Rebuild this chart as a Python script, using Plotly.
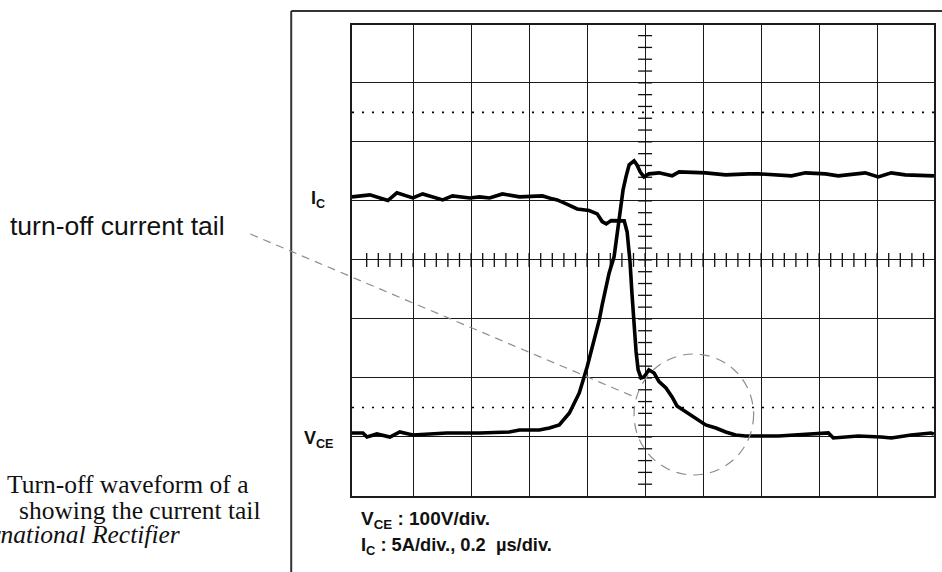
import numpy as np
import plotly.graph_objects as go

# ---------------- data ----------------
# scales: VCE 100 V/div, IC 5 A/div, time 0.2 us/div
T_PER_DIV = 0.2
I_PER_DIV = 5
V_PER_DIV = 100

ic_time_us = [-0.011, 0.051, 0.113, 0.144, 0.199, 0.233, 0.302, 0.336, 0.395, 0.429,
              0.464, 0.508, 0.567, 0.611, 0.646, 0.680, 0.697, 0.728, 0.766, 0.807,
              0.835, 0.852, 0.866, 0.883, 0.928, 0.938, 0.948, 0.955, 0.962, 0.969,
              0.976, 0.986, 0.996, 1.013, 1.031, 1.048, 1.072, 1.093, 1.110, 1.141,
              1.175, 1.209, 1.244, 1.278, 1.312, 1.347, 1.460, 1.553, 1.632, 1.649,
              1.735, 1.814, 1.849, 1.917, 1.986, 1.996]
ic_amps = [20.34, 20.51, 20.03, 20.68, 20.25, 20.59, 20.08, 20.42, 20.25, 20.34,
           20.25, 20.59, 20.34, 20.42, 20.42, 20.17, 20.08, 19.75, 19.32, 19.18,
           18.90, 18.25, 18.05, 18.33, 18.31, 17.37, 14.83, 12.03, 9.07, 7.20,
           5.68, 5.00, 5.08, 5.68, 5.42, 4.69, 4.15, 3.39, 2.63, 2.12,
           1.61, 1.02, 0.76, 0.42, 0.17, 0.08, 0.08, 0.25, 0.34, -0.08,
           0.08, 0.00, -0.08, 0.17, 0.34, 0.25]

vce_time_us = [-0.011, 0.027, 0.041, 0.075, 0.120, 0.154, 0.199, 0.316, 0.429, 0.532,
               0.567, 0.635, 0.670, 0.704, 0.739, 0.773, 0.800, 0.818, 0.842, 0.852,
               0.876, 0.893, 0.910, 0.924, 0.934, 0.945, 0.962, 0.972, 0.983, 0.996,
               1.013, 1.048, 1.093, 1.117, 1.209, 1.278, 1.357, 1.391, 1.505, 1.553,
               1.622, 1.666, 1.759, 1.804, 1.849, 1.897, 1.996]
vce_volts = [6.8, 6.8, 0.0, 5.1, 0.0, 8.5, 3.4, 6.8, 6.8, 8.5,
             11.9, 11.9, 15.3, 20.3, 40.7, 74.6, 118.6, 152.5, 198.3, 223.7,
             278.0, 305.1, 367.8, 418.6, 440.7, 461.0, 467.8, 461.0, 449.2, 440.7,
             445.8, 447.5, 442.4, 449.2, 447.5, 444.1, 445.8, 445.8, 442.4, 447.5,
             445.8, 442.4, 447.5, 440.7, 447.5, 444.1, 442.4]

vertical_gridlines_us = [0.2, 0.4, 0.6, 0.8, 1.0, 1.2, 1.4, 1.6, 1.8]
horizontal_gridlines_A = [0, 5, 10, 15, 20, 25, 30]
dotted_levels_A = [2.5, 27.5]

# ---------------- geometry ----------------
W, H = 942, 572
ML, MR, MT, MB = 352, 6, 25, 76
PW, PH = W - ML - MR, H - MT - MB

def px(x):
    return (x - ML) / PW

def py(y):
    return (H - MB - y) / PH

x_range = [-0.0107, 1.9962]
y_range = [-1 * I_PER_DIV, 6.98 * I_PER_DIV]
y2_range = [-1 * V_PER_DIV, 6.98 * V_PER_DIV]

SANS = "Liberation Sans, Arial, Helvetica, sans-serif"
SERIF = "Liberation Serif, Times New Roman, serif"

fig = go.Figure()

# center graticule tick marks
tx = np.arange(0.04, 1.99, 0.04)
fig.add_trace(go.Scatter(
    x=tx, y=[3 * I_PER_DIV] * len(tx), mode="markers", hoverinfo="skip",
    marker=dict(symbol="line-ns", size=10, line=dict(color="#111", width=1.3)),
))
ty = np.arange(-4, 35, 1.0)
fig.add_trace(go.Scatter(
    x=[5 * T_PER_DIV] * len(ty), y=ty, mode="markers", hoverinfo="skip",
    marker=dict(symbol="line-ew", size=10, line=dict(color="#111", width=1.3)),
))

fig.add_trace(go.Scatter(
    x=vce_time_us, y=vce_volts, yaxis="y2", mode="lines", name="VCE",
    line=dict(color="black", width=3.6),
))
fig.add_trace(go.Scatter(
    x=ic_time_us, y=ic_amps, mode="lines", name="IC",
    line=dict(color="black", width=3.6),
))

shapes = []
for lv in dotted_levels_A:
    shapes.append(dict(type="line", xref="paper", yref="y", x0=0, x1=1, y0=lv, y1=lv,
                       line=dict(color="black", width=1.6, dash="2px,8px"), layer="below"))
# outer frame of the figure panel
shapes.append(dict(type="line", xref="paper", yref="paper", x0=px(291), x1=px(291),
                   y0=py(11), y1=py(580), line=dict(color="#333", width=2)))
shapes.append(dict(type="line", xref="paper", yref="paper", x0=px(291), x1=px(950),
                   y0=py(11), y1=py(11), line=dict(color="#333", width=2)))
# pointer line and circle
shapes.append(dict(type="line", xref="paper", yref="paper", x0=px(250), y0=py(234),
                   x1=px(638), y1=py(398),
                   line=dict(color="#8c8c8c", width=1.2, dash="8px,6px")))
shapes.append(dict(type="circle", xref="paper", yref="paper", x0=px(635), x1=px(755),
                   y0=py(475), y1=py(354),
                   line=dict(color="#8c8c8c", width=1.2, dash="10px,7px")))

annotations = [
    dict(text="turn-off current tail", x=px(9), y=py(226), xanchor="left", yanchor="middle",
         font=dict(family=SANS, size=26.5, color="#111")),
    dict(text="<b>I<sub>C</sub></b>", x=px(311), y=py(199), xanchor="left", yanchor="middle",
         font=dict(family=SANS, size=18, color="#111")),
    dict(text="<b>V<sub>CE</sub></b>", x=px(304), y=py(439), xanchor="left", yanchor="middle",
         font=dict(family=SANS, size=18, color="#111")),
    dict(text="<b>V<sub>CE</sub> : 100V/div.</b>", x=px(361), y=py(520), xanchor="left",
         yanchor="middle", font=dict(family=SANS, size=19, color="#111")),
    dict(text="<b>I<sub>C</sub> : 5A/div., 0.2  µs/div.</b>", x=px(361), y=py(546),
         xanchor="left", yanchor="middle", font=dict(family=SANS, size=18.3, color="#111")),
    dict(text="Turn-off waveform of a", x=px(249), y=py(484), xanchor="right",
         yanchor="middle", font=dict(family=SERIF, size=25.5, color="#111")),
    dict(text="showing the current tail", x=px(260), y=py(510), xanchor="right",
         yanchor="middle", font=dict(family=SERIF, size=25.5, color="#111")),
    dict(text="<i>International Rectifier</i>", x=px(179), y=py(534.5), xanchor="right",
         yanchor="middle", font=dict(family=SERIF, size=25.5, color="#111")),
]
for a in annotations:
    a.update(xref="paper", yref="paper", showarrow=False, borderpad=0, borderwidth=0)

fig.update_layout(
    width=W, height=H,
    margin=dict(l=ML, r=MR, t=MT, b=MB, pad=0),
    paper_bgcolor="white", plot_bgcolor="white",
    showlegend=False,
    shapes=shapes, annotations=annotations,
    xaxis=dict(range=x_range, tickvals=vertical_gridlines_us, showticklabels=False,
               ticks="", showgrid=True, gridcolor="#1a1a1a", gridwidth=1.3,
               zeroline=False, showline=True, mirror=True, linecolor="#1a1a1a",
               linewidth=1.6, fixedrange=True),
    yaxis=dict(range=y_range, tickvals=horizontal_gridlines_A, showticklabels=False,
               ticks="", showgrid=True, gridcolor="#1a1a1a", gridwidth=1.3,
               zeroline=False, showline=True, mirror=True, linecolor="#1a1a1a",
               linewidth=1.6, fixedrange=True),
    yaxis2=dict(range=y2_range, overlaying="y", visible=False, showgrid=False,
                zeroline=False, fixedrange=True),
)

fig.write_html("out.html", config={"displayModeBar": False},
               post_script="document.body.style.margin='0';")
